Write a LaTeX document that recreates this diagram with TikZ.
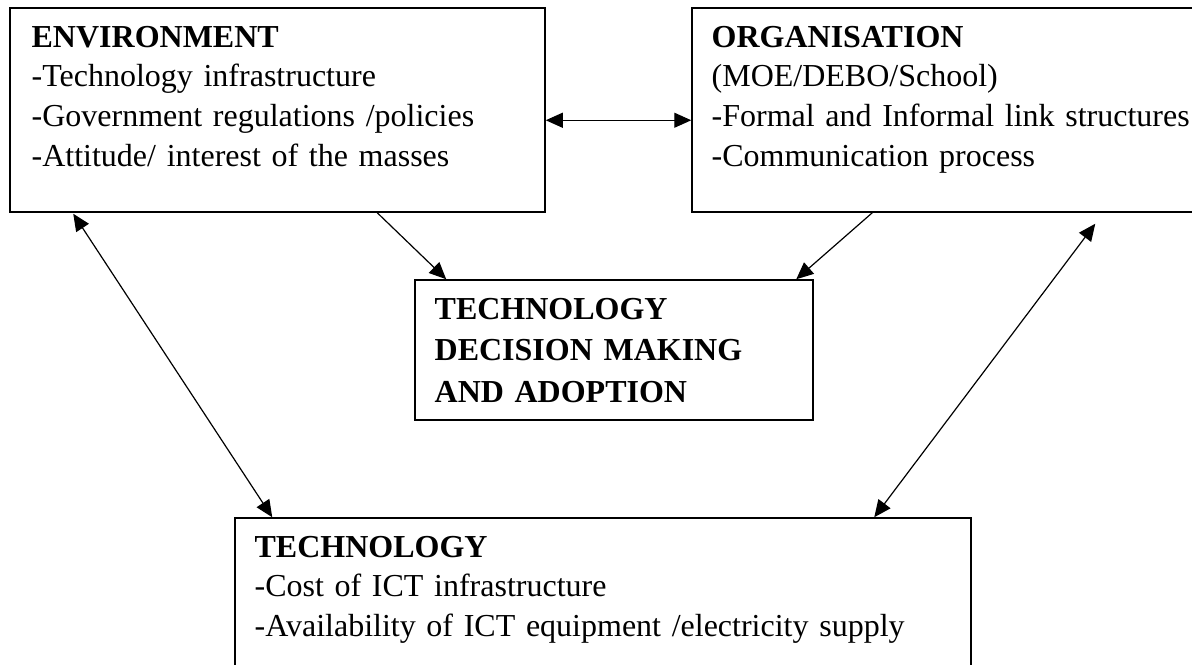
\documentclass[tikz,border=0pt]{standalone}
\usepackage{fontspec}
\setmainfont{Liberation Serif}
\usetikzlibrary{calc,fit,arrows.meta}

\tikzset{
  box/.style = {draw, line width=0.75pt, inner sep=0pt},
  txt/.style = {anchor=base west, inner sep=0pt, align=left, text width=#1,
                font=\fontsize{16pt}{19.8pt}\selectfont},
  link/.style = {-{Triangle[length=8.5pt,width=7.5pt]}, line width=0.6pt},
  both/.style = {{Triangle[length=8.5pt,width=7.5pt]}-{Triangle[length=8.5pt,width=7.5pt]}, line width=0.6pt}
}

\begin{document}
\begin{tikzpicture}[x=0.5pt, y=-0.5pt]
    \useasboundingbox (0,0) rectangle (1192,664);
    \clip (0,0) rectangle (1192,664);

    \node[box, fit={(10,8) (545,212)}] (env) {};
    \node[box, fit={(692,8) (1194,212)}] (org) {};
    \node[box, fit={(415,280) (813,420)}] (dec) {};
    \node[box, fit={(235,518) (971,690)}] (tech) {};

    \node[txt=250pt] (envtxt) at ($(env.north west)+(22,40)$)
      {\textbf{ENVIRONMENT}\\-Technology infrastructure\\-Government regulations /policies\\-Attitude/ interest of the masses};
    \node[txt=240pt] (orgtxt) at ($(org.north west)+(20,40)$)
      {\textbf{ORGANISATION}\\(MOE/DEBO/School)\\-Formal and Informal link structures\\-Communication process};
    \node[txt=190pt, font=\fontsize{16pt}{20.75pt}\selectfont\bfseries] (dectxt) at ($(dec.north west)+(20,40)$)
      {TECHNOLOGY\\DECISION MAKING\\AND ADOPTION};
    \node[txt=350pt] (techtxt) at ($(tech.north west)+(20,40)$)
      {\textbf{TECHNOLOGY}\\-Cost of ICT infrastructure\\-Availability of ICT equipment /electricity supply};

    \draw[both] ($(env.north east)+(0,113)$) -- ($(org.north west)+(0,113)$);
    \draw[link] ($(env.south west)+(368,0)$) -- ($(dec.north west)+(32,0)$);
    \draw[link] ($(org.south west)+(181,0)$) -- ($(dec.north west)+(382,0)$);
    \draw[both] ($(env.south west)+(64,1)$) -- ($(tech.north west)+(38,0)$);
    \draw[both] ($(org.south west)+(404,11)$) -- ($(tech.north west)+(640,0)$);
\end{tikzpicture}
\end{document}
